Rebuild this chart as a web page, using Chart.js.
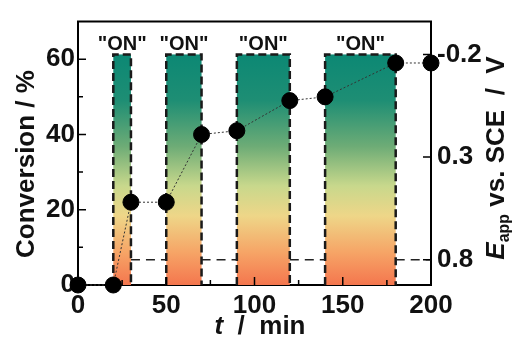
<!DOCTYPE html>
<html>
<head>
<meta charset="utf-8">
<script src="https://cdn.jsdelivr.net/npm/chart.js@4"></script>
<style>html,body{margin:0;padding:0;background:#fff;} canvas{display:block;}</style>
</head>
<body>
<canvas id="graph" width="519" height="341"></canvas>
<script>
/* conversion vs time, with the potential switched on/off */
var times = [0, 20, 30, 50, 70, 90, 120, 140, 180, 200];
var conversion = [0, 0, 22, 22, 40, 41, 49, 50, 59, 59];
var onStart = [20, 50, 90, 140];
var onEnd = [30, 70, 120, 180];
var offStart = [30, 70, 120, 180];
var offEnd = [50, 90, 140, 200];
var eOn = -0.2;
var eOff = 0.8;
var potentialTicks = [-0.2, 0.3, 0.8];
var onLabel = '"ON"';

var FONT = '"Liberation Sans", Arial, sans-serif';

var convPoints = times.map(function (t, i) { return { x: t, y: conversion[i] }; });
var offPoints = [];
offStart.forEach(function (s, i) {
    offPoints.push({ x: s, y: eOff }, { x: offEnd[i], y: eOff }, { x: offEnd[i], y: null });
});

var onBoxes = {
    id: 'onBoxes',
    beforeDatasetsDraw: function (chart) {
        var ctx = chart.ctx, a = chart.chartArea;
        var xs = chart.scales.x, y2 = chart.scales.y2;
        var top = y2.getPixelForValue(eOn);
        ctx.save();
        onStart.forEach(function (s, i) {
            var x0 = xs.getPixelForValue(s), x1 = xs.getPixelForValue(onEnd[i]);
            var g = ctx.createLinearGradient(0, top, 0, a.bottom);
            g.addColorStop(0, 'rgb(12,136,116)');
            g.addColorStop(0.2, 'rgb(30,142,116)');
            g.addColorStop(0.4, 'rgb(110,172,118)');
            g.addColorStop(0.57, 'rgb(200,216,140)');
            g.addColorStop(0.7, 'rgb(238,214,136)');
            g.addColorStop(0.86, 'rgb(246,164,102)');
            g.addColorStop(1, 'rgb(244,118,78)');
            ctx.fillStyle = g;
            ctx.fillRect(x0, top, x1 - x0, a.bottom - top);
            ctx.setLineDash([8, 4]);
            ctx.lineWidth = 2.5;
            ctx.strokeStyle = '#1a1a1a';
            ctx.beginPath();
            ctx.moveTo(x0, a.bottom);
            ctx.lineTo(x0, top);
            ctx.lineTo(x1, top);
            ctx.lineTo(x1, a.bottom);
            ctx.stroke();
            ctx.setLineDash([]);
            ctx.fillStyle = '#111';
            ctx.font = 'bold 20px ' + FONT;
            ctx.textAlign = 'center';
            ctx.textBaseline = 'middle';
            ctx.fillText(onLabel, (x0 + x1) / 2, top - 10);
        });
        ctx.restore();
    },
    afterDraw: function (chart) {
        var ctx = chart.ctx, a = chart.chartArea;
        var xs = chart.scales.x, y = chart.scales.y, y2 = chart.scales.y2;
        ctx.save();
        ctx.strokeStyle = '#000';
        ctx.lineWidth = 2;
        // top border
        ctx.beginPath();
        ctx.moveTo(a.left - 1, a.top);
        ctx.lineTo(a.right + 1, a.top);
        ctx.stroke();
        // inward ticks
        ctx.lineWidth = 1.5;
        ctx.beginPath();
        for (var v = 0; v < 70; v += 10) {
            var py = y.getPixelForValue(v), len = v % 20 === 0 ? 8 : 5;
            ctx.moveTo(a.left, py); ctx.lineTo(a.left + len, py);
        }
        for (var t = 0; t <= 200; t += 25) {
            var px = xs.getPixelForValue(t), l2 = t % 50 === 0 ? 8 : 5;
            ctx.moveTo(px, a.bottom); ctx.lineTo(px, a.bottom - l2);
        }
        potentialTicks.forEach(function (p) {
            var py2 = y2.getPixelForValue(p);
            ctx.moveTo(a.right, py2); ctx.lineTo(a.right - 8, py2);
        });
        ctx.stroke();

        ctx.fillStyle = '#111';
        ctx.textBaseline = 'middle';
        // left title
        ctx.save();
        ctx.translate(27, 164);
        ctx.rotate(-Math.PI / 2);
        ctx.textAlign = 'center';
        ctx.font = 'bold 26px ' + FONT;
        ctx.fillText('Conversion / %', 0, 0);
        ctx.restore();

        // bottom title
        var big = 'bold 26px ' + FONT, ital = 'italic bold 26px ' + FONT;
        ctx.textAlign = 'left';
        ctx.font = ital; var w1 = ctx.measureText('t').width;
        ctx.font = big; var w2 = ctx.measureText('  /  min').width;
        var sx = 260 - (w1 + w2) / 2;
        ctx.font = ital; ctx.fillText('t', sx, 327);
        ctx.font = big; ctx.fillText('  /  min', sx + w1, 327);

        // right title
        ctx.save();
        ctx.translate(497, 158);
        ctx.rotate(-Math.PI / 2);
        var sub = 'bold 16px ' + FONT;
        ctx.font = ital; var a1 = ctx.measureText('E').width;
        ctx.font = sub; var a2 = ctx.measureText('app').width;
        ctx.font = big; var a3 = ctx.measureText(' vs. SCE  /  V').width;
        var st = -(a1 + a2 + a3) / 2;
        ctx.font = ital; ctx.fillText('E', st, 0);
        ctx.font = sub; ctx.fillText('app', st + a1, 8);
        ctx.font = big; ctx.fillText(' vs. SCE  /  V', st + a1 + a2, 0);
        ctx.restore();
        ctx.restore();
    }
};

var graph = document.getElementById('graph').getContext('2d');

var myChart = new Chart(graph, {
    type: 'line',
    data: {
        datasets: [{
            label: 'Conversion',
            data: convPoints,
            yAxisID: 'y',
            borderColor: '#333',
            borderWidth: 1,
            borderDash: [2, 2],
            pointRadius: 8,
            pointBackgroundColor: '#000',
            pointBorderColor: '#000',
            clip: false,
        }, {
            label: 'E off',
            data: offPoints,
            yAxisID: 'y2',
            borderColor: '#222',
            borderWidth: 1.5,
            borderDash: [9, 6],
            pointRadius: 0,
            spanGaps: false,
        }],
    },
    options: {
        responsive: false,
        animation: false,
        layout: { padding: { top: 12 } },
        plugins: {
            legend: { display: false },
            tooltip: { enabled: false },
        },
        scales: {
            x: {
                type: 'linear',
                min: 0,
                max: 200,
                grid: { drawOnChartArea: false, drawTicks: false },
                border: { display: true, color: '#000', width: 2 },
                ticks: {
                    stepSize: 50,
                    padding: 5,
                    maxRotation: 0,
                    color: '#111',
                    font: { family: FONT, size: 26, weight: 'bold' },
                },
                afterFit: function (s) { s.height = 56; },
            },
            y: {
                position: 'left',
                min: 0,
                max: 70,
                grid: { drawOnChartArea: false, drawTicks: false },
                border: { display: true, color: '#000', width: 2 },
                ticks: {
                    stepSize: 10,
                    padding: 3,
                    color: '#111',
                    font: { family: FONT, size: 26, weight: 'bold' },
                    callback: function (v) { return v % 20 === 0 ? v : ''; },
                },
                afterFit: function (s) { s.width = 78; },
            },
            y2: {
                position: 'right',
                reverse: true,
                min: -0.36,
                max: 0.923,
                grid: { drawOnChartArea: false, drawTicks: false },
                border: { display: true, color: '#000', width: 2 },
                afterBuildTicks: function (s) {
                    s.ticks = potentialTicks.map(function (v) { return { value: v }; });
                },
                ticks: {
                    padding: 6,
                    color: '#111',
                    font: { family: FONT, size: 26, weight: 'bold' },
                    callback: function (v) { return Number(v).toFixed(1); },
                },
                afterFit: function (s) { s.width = 88; },
            },
        },
    },
    plugins: [onBoxes],
});
</script>
</body>
</html>
